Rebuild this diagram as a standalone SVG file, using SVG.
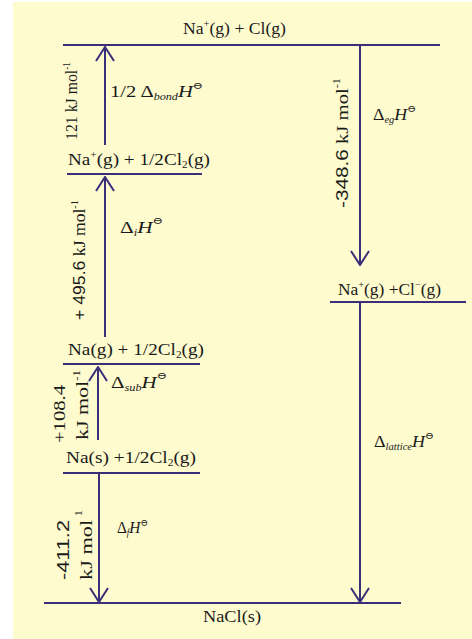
<svg xmlns="http://www.w3.org/2000/svg" width="472" height="639" viewBox="0 0 472 639">
<defs>
<style>
.bg{fill:#FEFBCF}
.lvl{stroke:#3A2F78;stroke-width:2;fill:none}
.arr{stroke:#3A2F78;stroke-width:2;fill:none}
.t{font-family:"Liberation Serif","DejaVu Serif",serif;font-size:17px;fill:#1a1a1a}
.s{font-family:"Liberation Sans",Arial,sans-serif}
.i{font-style:italic}
.sub{font-size:10px;font-style:italic}
.sup{font-size:10px}
</style>
<marker id="head" viewBox="0 0 16 20" refX="15" refY="10" markerWidth="16" markerHeight="20" markerUnits="userSpaceOnUse" orient="auto">
<path d="M1,1 L15,10 L1,19" stroke="#3A2F78" stroke-width="2" fill="none"/>
</marker>
</defs>
<rect x="0" y="0" width="472" height="639" fill="#ffffff"/>
<rect class="bg" x="13" y="2" width="459" height="637"/>

<g id="level-top">
<line class="lvl" x1="63" y1="45" x2="440" y2="45"/>
<text class="t" x="183" y="34" textLength="103" lengthAdjust="spacingAndGlyphs">Na<tspan class="sup" dy="-7">+</tspan><tspan dy="7">(g) + Cl(g)</tspan></text>
</g>
<g id="level-na-plus-cl2">
<line class="lvl" x1="67" y1="174" x2="202" y2="174"/>
<text class="t" x="68" y="165" textLength="142" lengthAdjust="spacingAndGlyphs">Na<tspan class="sup" dy="-7">+</tspan><tspan dy="7">(g) + 1/2Cl</tspan><tspan class="sup" dy="3">2</tspan><tspan dy="-3">(g)</tspan></text>
</g>
<g id="level-na-g">
<line class="lvl" x1="63" y1="364" x2="200" y2="364"/>
<text class="t" x="68" y="355" textLength="136" lengthAdjust="spacingAndGlyphs">Na(g) + 1/2Cl<tspan class="sup" dy="3">2</tspan><tspan dy="-3">(g)</tspan></text>
</g>
<g id="level-na-s">
<line class="lvl" x1="63" y1="473" x2="200" y2="473"/>
<text class="t" x="66" y="463" textLength="130" lengthAdjust="spacingAndGlyphs">Na(s) +1/2Cl<tspan class="sup" dy="3">2</tspan><tspan dy="-3">(g)</tspan></text>
</g>
<g id="level-ions">
<line class="lvl" x1="330" y1="302" x2="466" y2="302"/>
<text class="t" x="338" y="295" textLength="103" lengthAdjust="spacingAndGlyphs">Na<tspan class="sup" dy="-7">+</tspan><tspan dy="7">(g) +Cl</tspan><tspan class="sup" dy="-7">−</tspan><tspan dy="7">(g)</tspan></text>
</g>
<g id="level-nacl">
<line class="lvl" x1="44" y1="603" x2="401" y2="603"/>
<text class="t" x="203" y="622" textLength="58" lengthAdjust="spacingAndGlyphs">NaCl(s)</text>
</g>

<g id="connectors">
<line class="arr" x1="105" y1="145" x2="105" y2="47" marker-end="url(#head)"/>
<line class="arr" x1="105" y1="337" x2="105" y2="177" marker-end="url(#head)"/>
<line class="arr" x1="98" y1="440" x2="98" y2="367" marker-end="url(#head)"/>
<line class="arr" x1="99" y1="473" x2="99" y2="602" marker-end="url(#head)"/>
<line class="arr" x1="360" y1="45" x2="360" y2="265" marker-end="url(#head)"/>
<line class="arr" x1="360" y1="302" x2="360" y2="602" marker-end="url(#head)"/>
</g>

<g id="labels">
<text class="t" x="110" y="97" textLength="93" lengthAdjust="spacingAndGlyphs">1/2 Δ<tspan class="sub" dy="3" font-size="13">bond</tspan><tspan class="i" dy="-3">H</tspan><tspan class="sup" dy="-8">⊖</tspan></text>
<text class="t" x="120" y="233" font-size="19" textLength="43" lengthAdjust="spacingAndGlyphs">Δ<tspan class="sub" dy="3">i</tspan><tspan class="i" dy="-3">H</tspan><tspan class="sup" dy="-9">⊖</tspan></text>
<text class="t" x="111" y="388" font-size="19" textLength="56" lengthAdjust="spacingAndGlyphs">Δ<tspan class="sub" dy="3">sub</tspan><tspan class="i" dy="-3">H</tspan><tspan class="sup" dy="-9">⊖</tspan></text>
<text class="t" x="117" y="533" font-size="14" textLength="31" lengthAdjust="spacingAndGlyphs">Δ<tspan class="sub" dy="3" font-size="8">f</tspan><tspan class="i" dy="-3">H</tspan><tspan class="sup" dy="-7" font-size="8">⊖</tspan></text>
<text class="t" x="373" y="120" font-size="15" textLength="43" lengthAdjust="spacingAndGlyphs">Δ<tspan class="sub" dy="3" font-size="8">eg</tspan><tspan class="i" dy="-3">H</tspan><tspan class="sup" dy="-8" font-size="9">⊖</tspan></text>
<text class="t" x="374" y="447" font-size="15" textLength="60" lengthAdjust="spacingAndGlyphs">Δ<tspan class="sub" dy="3" font-size="8">lattice</tspan><tspan class="i" dy="-3">H</tspan><tspan class="sup" dy="-8" font-size="9">⊖</tspan></text>

<text class="t" text-anchor="middle" font-size="16" textLength="78" lengthAdjust="spacingAndGlyphs" transform="translate(77,101) rotate(-90)">121 kJ mol<tspan class="sup" dy="-7">-1</tspan></text>
<text class="t" text-anchor="middle" textLength="120" lengthAdjust="spacingAndGlyphs" transform="translate(85,260) rotate(-90)"><tspan class="s">+ 495.6</tspan>  kJ mol<tspan class="sup" dy="-7">-1</tspan></text>
<text class="t" text-anchor="middle" font-size="18" textLength="130" lengthAdjust="spacingAndGlyphs" transform="translate(348,143) rotate(-90)"><tspan class="s">-348.6</tspan> kJ mol<tspan class="sup" dy="-8">-1</tspan></text>
<text class="t" text-anchor="middle" font-size="19" textLength="58" lengthAdjust="spacingAndGlyphs" transform="translate(65,414) rotate(-90)">+108.4</text>
<text class="t" text-anchor="middle" font-size="19" textLength="70" lengthAdjust="spacingAndGlyphs" transform="translate(88,405) rotate(-90)">kJ mol<tspan class="sup" dy="-8">-1</tspan></text>
<text class="t" text-anchor="middle" font-size="19" textLength="60" lengthAdjust="spacingAndGlyphs" transform="translate(69,550) rotate(-90)"><tspan class="s">-411.2</tspan></text>
<text class="t" text-anchor="middle" font-size="19" textLength="70" lengthAdjust="spacingAndGlyphs" transform="translate(92,545) rotate(-90)">kJ mol<tspan class="sup" dy="-10"> 1</tspan></text>
</g>
</svg>
